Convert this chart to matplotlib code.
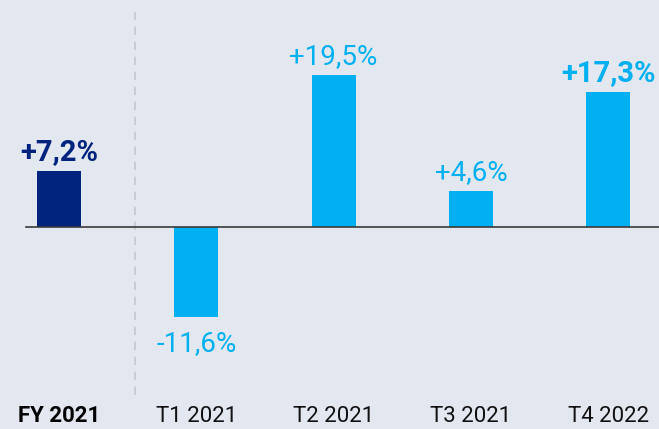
import matplotlib.pyplot as plt
import matplotlib.transforms as mtransforms

# data
categories = ['FY 2021', 'T1 2021', 'T2 2021', 'T3 2021', 'T4 2022']
values = [7.2, -11.6, 19.5, 4.6, 17.3]
value_labels = ['+7,2%', '-11,6%', '+19,5%', '+4,6%', '+17,3%']

BG = '#e3e7f0'
NAVY = '#00237d'
CYAN = '#00b0f0'
FONT = ['Roboto', 'DejaVu Sans']

fig = plt.figure(figsize=(6.59, 4.29), dpi=100)
fig.patch.set_facecolor(BG)
ax = fig.add_axes([0, 0, 1, 1])
ax.set_facecolor(BG)

x = list(range(len(categories)))
colors = [NAVY] + [CYAN] * (len(categories) - 1)
ax.bar(x, values, width=0.32, color=colors, zorder=2)

ax.set_xlim(-0.43, 4.37)
ax.set_ylim(-26.0, 29.2)
ax.axis('off')

# zero line
ax.axhline(0, xmin=0.039, xmax=1, color='#3a3a3a', lw=1.2, zorder=3)

# dashed separator
ax.axvline(0.554, ymin=0.079, ymax=0.972, color='#c3c7cf', lw=1.2,
           ls=(0, (5, 4)), zorder=1)

# value labels
for i, (v, lab) in enumerate(zip(values, value_labels)):
    bold = i in (0, 4)
    col = NAVY if i == 0 else CYAN
    if v >= 0:
        ax.annotate(lab, (i, v), xytext=(0, 8), textcoords='offset points',
                    ha='center', va='baseline', fontsize=21 if bold else 20,
                    color=col, fontweight='bold' if bold else 'normal',
                    family=FONT)
    else:
        ax.annotate(lab, (i, v), xytext=(0, -9), textcoords='offset points',
                    ha='center', va='top', fontsize=20, color=col,
                    fontweight='bold' if bold else 'normal', family=FONT)

# category labels
trans = mtransforms.blended_transform_factory(ax.transData, ax.transAxes)
for i, cat in enumerate(categories):
    ax.text(i, 0.016, cat, transform=trans, ha='center', va='baseline',
            fontsize=16, color='#111111' if i else '#000000',
            fontweight='bold' if i == 0 else 'normal', family=FONT)

fig.savefig('out.png', dpi=100, facecolor=BG)
